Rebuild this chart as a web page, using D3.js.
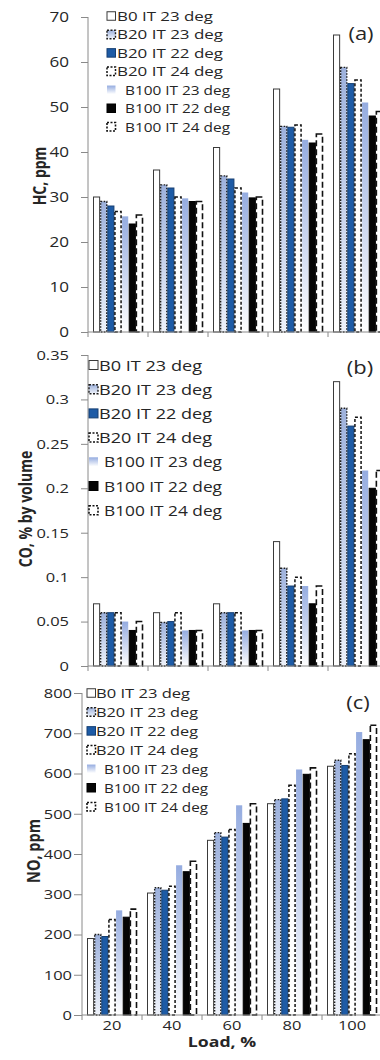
<!DOCTYPE html>
<html><head><meta charset="utf-8">
<script src="https://cdn.jsdelivr.net/npm/d3@7"></script>
<style>body{margin:0;background:#fff}</style>
</head><body>
<svg id="chart" width="380" height="1060"></svg>
<script>
// ---------- DATA ----------
const categories = ["20", "40", "60", "80", "100"];
const seriesNames = ["B0 IT 23 deg", "B20 IT 23 deg", "B20 IT 22 deg", "B20 IT 24 deg",
                     "B100 IT 23 deg", "B100 IT 22 deg", "B100 IT 24 deg"];
// HC, ppm (one row per series, one value per load)
const hcValues = [
  [30, 36, 41, 54, 66],
  [29, 32.7, 34.7, 45.7, 58.8],
  [28, 32, 34, 45.5, 55.2],
  [26.8, 30, 32, 46, 56],
  [25.7, 29.7, 31, 42.7, 51],
  [24, 29, 29.8, 42, 48],
  [26, 29, 30, 44, 49]
];
// CO, % by volume
const coValues = [
  [0.07, 0.06, 0.07, 0.14, 0.32],
  [0.06, 0.049, 0.06, 0.11, 0.29],
  [0.06, 0.05, 0.06, 0.09, 0.27],
  [0.06, 0.06, 0.06, 0.10, 0.28],
  [0.05, 0.04, 0.04, 0.09, 0.22],
  [0.04, 0.04, 0.04, 0.07, 0.20],
  [0.05, 0.04, 0.04, 0.09, 0.22]
];
// NO, ppm
const noValues = [
  [190, 303, 434, 525, 618],
  [200, 316, 453, 535, 633],
  [195, 310, 442, 537, 620],
  [237, 320, 461, 571, 649],
  [260, 372, 521, 610, 703],
  [243, 356, 476, 598, 684],
  [263, 382, 525, 614, 720]
];
const hcTicks = [0, 10, 20, 30, 40, 50, 60, 70];
const coTicks = [0, 0.05, 0.1, 0.15, 0.2, 0.25, 0.3, 0.35];
const noTicks = [0, 100, 200, 300, 400, 500, 600, 700, 800];
const panelLabels = ["(a)", "(b)", "(c)"];
const yTitles = ["HC, ppm", "CO, % by volume", "NO, ppm"];
const xTitle = "Load, %";

// ---------- STYLES ----------
const FONT = "'Open Sans', 'DejaVu Sans', sans-serif";
const SX = 1.22;
const TXT = "#262626";
const AXIS = "#8a8a8a";
const seriesStyles = [
  {fill: "#ffffff", stroke: "#3a3a3a", dash: null, sw: 1},
  {fill: "url(#gB20)", stroke: "#1e1e1e", dash: "1.6,1.4", sw: 1.4},
  {fill: "#1d5ba6", stroke: "#163f72", dash: null, sw: 1},
  {fill: "#ffffff", stroke: "#111111", dash: "3,2", sw: 1.5},
  {fill: "url(#gB100)", stroke: "none", dash: null, sw: 0},
  {fill: "#050505", stroke: "#000000", dash: null, sw: 1},
  {fill: "#ffffff", stroke: "#111111", dash: "6,3", sw: 1.6}
];

const svg = d3.select("#chart");
const defs = svg.append("defs");
function grad(id, top, bottom) {
  const g = defs.append("linearGradient").attr("id", id)
    .attr("x1", 0).attr("y1", 0).attr("x2", 0).attr("y2", 1);
  g.append("stop").attr("offset", "0%").attr("stop-color", top);
  g.append("stop").attr("offset", "100%").attr("stop-color", bottom);
}
grad("gB20", "#9db1dc", "#eef2fa");
grad("gB100", "#95ace0", "#ffffff");

svg.append("rect").attr("width", 380).attr("height", 1060).attr("fill", "#fff");

function stretchText(sel, x, y) {
  sel.attr("x", 0).attr("y", 0)
     .attr("transform", `translate(${x},${y}) scale(${SX},1)`);
}

// legend layout: box x, row centres, text start (B0/B20 rows, B100 rows), text end (B0, B20, B100 rows)
const panels = [
  {values: hcValues, ticks: hcTicks, x0: 88, x1: 388, yBottom: 332, yTop: 17,
   domainMax: 70, tickSize: 7, tickPad: 12, tickFont: 14, label: {x: 361, y: 33},
   title: {x: 39, y: 176, size: 14},
   legend: {x: 107, y: 16, step: 18.45, size: 13.5, box: 8.5, tx: [117, 125], te: [213, 223, 230]},
   showX: false},
  {values: coValues, ticks: coTicks, x0: 88, x1: 388, yBottom: 666, yTop: 355,
   domainMax: 0.35, tickSize: 7, tickPad: 12, tickFont: 13.5, label: {x: 360, y: 367},
   title: {x: 25, y: 509, size: 14},
   legend: {x: 89, y: 365, step: 24.2, size: 14.5, box: 9, tx: [99, 104], te: [202, 212, 222]},
   showX: false},
  {values: noValues, ticks: noTicks, x0: 82, x1: 382, yBottom: 1015, yTop: 693,
   domainMax: 800, tickSize: 8, tickPad: 2, tickFont: 13.5, label: {x: 358, y: 702},
   title: {x: 33.5, y: 851, size: 14.5},
   legend: {x: 87, y: 693, step: 18.95, size: 13.5, box: 8.5, tx: [96, 104], te: [190, 198, 208]},
   showX: true}
];

panels.forEach((p, pi) => {
  const g = svg.append("g");
  const x = d3.scaleBand().domain(categories).range([p.x0, p.x1])
    .paddingInner(1 / 6).paddingOuter(1 / 12);
  const xs = d3.scaleBand().domain(d3.range(seriesNames.length)).range([0, x.bandwidth()]);
  const y = d3.scaleLinear().domain([0, p.domainMax]).range([p.yBottom, p.yTop]);

  // bars
  seriesNames.forEach((name, si) => {
    const st = seriesStyles[si];
    g.append("g").selectAll("rect")
      .data(p.values[si].map((v, ci) => ({cat: categories[ci], v})))
      .join("rect")
      .attr("x", d => x(d.cat) + xs(si) + 0.5)
      .attr("y", d => y(d.v))
      .attr("width", xs.bandwidth() - 1)
      .attr("height", d => y(0) - y(d.v))
      .attr("fill", st.fill)
      .attr("stroke", st.stroke)
      .attr("stroke-width", st.sw)
      .attr("stroke-dasharray", st.dash);
  });

  // y axis
  const ya = g.append("g").attr("transform", `translate(${p.x0},0)`)
    .call(d3.axisLeft(y).tickValues(p.ticks).tickFormat(d => String(d))
      .tickSize(p.tickSize).tickPadding(p.tickPad));
  ya.select(".domain").attr("stroke", AXIS).attr("d", `M0,${p.yTop}V${p.yBottom}`);
  ya.selectAll(".tick line").attr("stroke", AXIS);
  ya.selectAll(".tick text").each(function () {
    const t = d3.select(this);
    const tx = +t.attr("x");
    t.attr("x", 0).attr("transform", `translate(${tx},0) scale(${SX},1)`)
      .attr("fill", TXT).attr("font-family", FONT).attr("font-size", p.tickFont);
  });

  // x axis, ticks at band boundaries
  const half = (x.step() - x.bandwidth()) / 2;
  const bounds = categories.map(c => x(c) - half)
    .concat([x(categories[categories.length - 1]) + x.bandwidth() + half]);
  g.append("line").attr("x1", p.x0).attr("x2", p.x1).attr("y1", y(0)).attr("y2", y(0))
    .attr("stroke", AXIS).attr("stroke-width", 1);
  g.selectAll(".xt").data(bounds).join("line")
    .attr("x1", d => d).attr("x2", d => d).attr("y1", y(0)).attr("y2", y(0) + 5)
    .attr("stroke", AXIS);
  if (p.showX) {
    g.selectAll(".xl").data(categories).join("text")
      .attr("text-anchor", "middle").attr("font-family", FONT).attr("font-size", 13.5)
      .attr("fill", TXT).text(d => d)
      .each(function (d) { stretchText(d3.select(this), x(d) + x.bandwidth() / 2, 1030); });
    const xt = g.append("text").attr("text-anchor", "middle").attr("font-family", FONT)
      .attr("font-weight", "bold").attr("font-size", 14.5).attr("fill", TXT).text(xTitle);
    stretchText(xt, 222, 1047);
  }

  // y title
  g.append("text").attr("text-anchor", "middle").attr("dominant-baseline", "central")
    .attr("font-family", FONT).attr("font-weight", "bold").attr("font-size", p.title.size)
    .attr("fill", TXT)
    .attr("transform", `translate(${p.title.x},${p.title.y}) rotate(-90) scale(1,${SX})`)
    .text(yTitles[pi]);

  // panel label
  const pl = g.append("text").attr("text-anchor", "middle").attr("dominant-baseline", "central")
    .attr("font-family", FONT).attr("font-size", 18).attr("fill", TXT).text(panelLabels[pi]);
  stretchText(pl, p.label.x, p.label.y);

  // legend
  const L = p.legend;
  seriesNames.forEach((name, si) => {
    const st = seriesStyles[si];
    const cy = L.y + si * L.step;
    g.append("rect").attr("x", L.x).attr("y", cy - L.box / 2)
      .attr("width", L.box).attr("height", L.box)
      .attr("fill", st.fill).attr("stroke", st.stroke === "none" ? "none" : st.stroke)
      .attr("stroke-width", st.sw).attr("stroke-dasharray", st.dash ? "2,1.5" : null);
    const kind = si === 0 ? 0 : (si < 4 ? 1 : 2);
    const sx = kind === 2 ? L.tx[1] : L.tx[0];
    g.append("text").attr("font-family", FONT).attr("font-size", L.size)
      .attr("fill", TXT).attr("dominant-baseline", "central")
      .attr("x", sx).attr("y", cy)
      .attr("textLength", L.te[kind] - sx).attr("lengthAdjust", "spacingAndGlyphs")
      .text(name);
  });
});
</script>
</body></html>
